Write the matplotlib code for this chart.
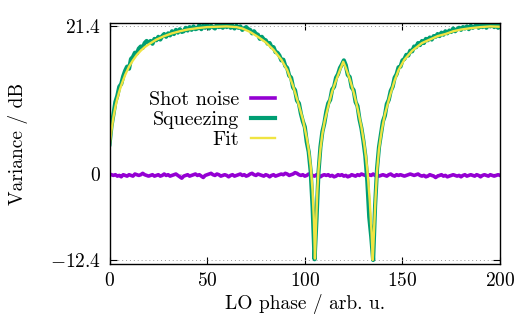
import numpy as np
import matplotlib
matplotlib.use('Agg')
import matplotlib.pyplot as plt

plt.rcParams['font.family'] = 'cmr10'
plt.rcParams['mathtext.fontset'] = 'cm'
plt.rcParams['axes.formatter.use_mathtext'] = True

# LO phase grid of the measured traces
phase = np.arange(0, 201)

# shot noise reference (dB)
shot_noise = [
    0.0, -0.1, -0.2, -0.1, -0.3, -0.2, -0.4, -0.1, -0.2, -0.3,
    -0.1, -0.2, -0.3, 0.0, -0.1, -0.2, -0.1, 0.1, -0.1, -0.2,
    -0.3, -0.2, -0.1, -0.3, -0.2, -0.1, -0.3, -0.2, 0.0, -0.2,
    -0.1, -0.3, -0.2, -0.1, 0.0, -0.2, -0.4, -0.6, -0.3, -0.2,
    -0.1, -0.3, -0.2, -0.1, 0.0, -0.2, -0.1, -0.3, -0.5, -0.2,
    -0.1, 0.0, 0.1, -0.1, -0.2, 0.0, -0.1, -0.3, -0.2, -0.1,
    -0.2, -0.4, -0.2, -0.1, -0.3, -0.2, -0.1, 0.0, -0.2, -0.1,
    -0.3, -0.2, 0.0, 0.1, -0.1, -0.2, 0.0, -0.1, -0.2, -0.3,
    -0.1, -0.2, -0.4, -0.2, -0.1, -0.3, -0.2, -0.1, 0.0, -0.1,
    0.1, 0.0, -0.2, -0.1, 0.0, 0.2, 0.1, -0.1, -0.2, -0.1,
    -0.3, -0.2, 0.0, -0.1, -0.2, -0.3, -0.1, -0.2, -0.4, -0.2,
    -0.1, -0.2, -0.1, -0.3, -0.2, -0.4, -0.3, -0.1, -0.2, -0.1,
    -0.3, -0.2, -0.4, -0.3, -0.1, -0.2, -0.3, -0.1, -0.2, 0.0,
    -0.1, -0.2, -0.3, -0.1, -0.2, 0.0, -0.2, -0.1, -0.3, -0.2,
    -0.1, -0.2, -0.3, -0.1, 0.0, -0.2, -0.3, -0.1, -0.2, -0.1,
    -0.2, -0.3, -0.2, -0.1, 0.0, -0.1, -0.2, -0.1, 0.0, -0.2,
    -0.3, -0.2, -0.4, -0.3, -0.1, -0.2, -0.3, -0.5, -0.3, -0.2,
    -0.1, -0.3, -0.2, -0.4, -0.3, -0.2, -0.1, -0.2, -0.3, -0.2,
    -0.4, -0.2, -0.1, -0.3, -0.2, -0.1, -0.2, -0.3, -0.1, -0.2,
    -0.4, -0.2, -0.1, -0.2, -0.3, -0.1, -0.2, -0.3, -0.2, -0.1,
    -0.2,
]

# measured squeezing / anti-squeezing trace (dB)
squeezing = [
    4.3, 6.9, 8.6, 10.4, 11.3, 12.6, 13.0, 14.1, 14.9, 15.5,
    15.2, 16.6, 16.9, 17.5, 17.4, 18.1, 18.4, 18.2, 18.9, 19.2,
    18.9, 19.2, 18.8, 19.5, 19.3, 19.8, 19.4, 19.9, 20.2, 19.8,
    20.3, 20.0, 20.6, 20.2, 20.8, 20.4, 20.9, 20.5, 20.6, 21.1,
    20.7, 21.2, 20.8, 21.3, 20.9, 21.0, 21.5, 20.9, 21.4, 21.1,
    21.5, 21.0, 21.4, 21.2, 21.0, 21.6, 21.2, 21.4, 21.1, 21.5,
    21.2, 21.6, 21.1, 21.4, 21.0, 21.4, 21.1, 21.3, 20.8, 21.0,
    21.2, 20.9, 20.8, 20.3, 20.6, 20.2, 20.1, 19.5, 19.8, 19.4,
    19.3, 18.8, 18.9, 18.3, 18.3, 17.6, 17.5, 17.1, 16.4, 16.5,
    15.6, 15.3, 14.2, 13.9, 12.5, 12.1, 10.6, 10.2, 8.7, 7.6,
    6.8, 4.6, 3.2, 0.4, -4.8, -12.3, -6.5, 0.2, 3.9, 6.1,
    7.3, 9.0, 10.2, 10.7, 12.2, 12.6, 13.9, 14.4, 15.3, 15.8,
    16.4, 15.7, 14.3, 14.0, 12.5, 12.1, 10.4, 9.8, 7.9, 6.6,
    4.8, 2.6, -1.0, -6.2, -9.0, -12.4, -4.6, 0.8, 3.9, 5.7,
    7.6, 8.4, 10.1, 10.7, 12.0, 12.6, 13.9, 14.4, 15.4, 15.5,
    16.4, 16.6, 17.2, 17.1, 17.8, 17.7, 18.4, 18.3, 18.9, 18.6,
    19.2, 18.9, 19.5, 19.3, 19.7, 19.4, 19.9, 19.8, 20.2, 19.9,
    20.4, 20.1, 20.6, 20.3, 20.7, 20.5, 21.0, 20.6, 20.9, 21.1,
    20.8, 21.2, 21.0, 21.3, 20.9, 21.4, 21.1, 21.3, 21.5, 21.1,
    21.4, 21.2, 21.6, 21.1, 21.5, 21.3, 21.6, 21.2, 21.5, 21.1,
    21.4,
]

# fitted model, sampled more densely around the two dips
fit_phase = [
    0, 1, 2, 3, 4, 5, 6, 8, 10, 12, 14, 16, 18, 20, 24, 28, 32, 36, 40, 45,
    50, 55, 60, 65, 68, 72, 76, 80, 84, 88, 91, 94, 97, 99, 101, 102, 103, 104,
    104.7, 105.2, 105.8, 106.4, 107, 108, 109, 110.3, 112, 114, 116, 118,
    119.7, 121, 123, 125, 127, 129, 130.5, 131.5, 132.3, 133.3, 134.2, 134.8,
    135.4, 136.2, 137, 138, 139.4, 141, 143.6, 146, 148, 151, 155, 160, 164,
    168, 172, 176, 180, 185, 190, 195, 200,
]
fit_value = [
    3.9, 6.3, 8.2, 9.7, 10.9, 11.9, 12.8, 14.3, 15.5, 16.4, 17.2, 17.8, 18.3,
    18.7, 19.4, 19.9, 20.3, 20.6, 20.85, 21.05,
    21.2, 21.25, 21.3, 21.2, 21.0, 20.5, 19.8, 19.0, 17.9, 16.5, 15.0, 12.7,
    9.9, 7.9, 5.2, 3.5, 1.2, -2.5,
    -7.0, -12.2, -7.0, -2.5, 0.5, 3.6, 5.8, 7.8, 9.8, 11.9, 13.5, 15.0,
    16.2, 15.3, 13.7, 11.8, 9.5, 6.8, 4.2, 2.0, -0.3, -4.0, -8.5, -12.4,
    -8.5, -3.5, 0.5, 3.6, 6.3, 8.6, 11.3, 13.5, 15.0, 16.5, 17.8, 18.9, 19.4,
    19.9, 20.2, 20.6, 20.85, 21.05, 21.2, 21.3, 21.25,
]

y_ticks = [-12.4, 0, 21.4]
x_ticks = [0, 50, 100, 150, 200]

fig = plt.figure(figsize=(5.22, 3.23), dpi=100)
ax = fig.add_axes([0.2098, 0.1827, 0.7482, 0.7452])

ax.plot(phase, shot_noise, color='#9400d3', lw=2.6, label='Shot noise')
ax.plot(phase, squeezing, color='#009e73', lw=3.0, label='Squeezing')
ax.plot(fit_phase, fit_value, color='#f0e442', lw=1.7, label='Fit')

ax.set_xlim(0, 200)
ax.set_ylim(-12.98, 21.75)
ax.set_xticks(x_ticks)
ax.set_xticklabels([r'$%d$' % t for t in x_ticks])
ax.set_yticks(y_ticks)
ax.set_yticklabels([r'$-12.4$', r'$0$', r'$21.4$'])
ax.tick_params(direction='in', top=True, right=True, length=5, width=0.8,
               labelsize=14, pad=6)
ax.grid(axis='y', linestyle=(0, (1, 3)), color='#999999', lw=0.7)
for s in ax.spines.values():
    s.set_linewidth(1.0)

ax.set_xlabel('LO phase / arb. u.', fontsize=14, labelpad=3)
ax.set_ylabel('Variance / dB', fontsize=14, labelpad=16)

ax.legend(loc='upper right', bbox_to_anchor=(0.424, 0.72), frameon=False,
          markerfirst=False, fontsize=14.5, handlelength=1.2,
          handletextpad=0.6, labelspacing=0.1, borderpad=0,
          borderaxespad=0)

fig.savefig('out.png', dpi=100)
